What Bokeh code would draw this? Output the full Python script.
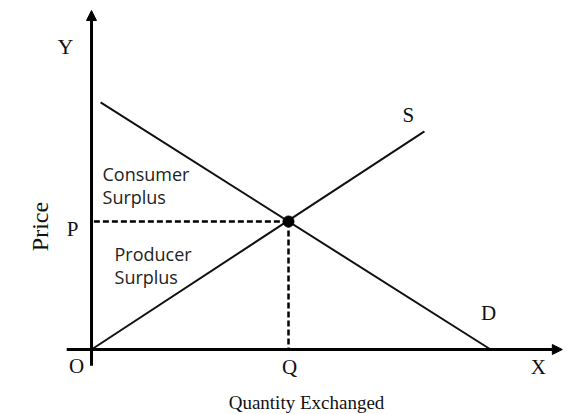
import math
from bokeh.plotting import figure
from bokeh.models import Range1d, Label, Arrow, NormalHead
from bokeh.embed import file_html
from bokeh.resources import INLINE

# ---- data (economic units) ----
demand_q = [0.23, 10.13]
demand_p = [9.65, 0.0]
supply_q = [0.0, 8.45]
supply_p = [0.0, 8.52]
eq_q = [5.0]
eq_p = [5.0]
x_axis_q = [-0.63, 11.95]
y_axis_p = [-0.63, 13.24]
guide_start = 0.06

p = figure(width=567, height=414,
           x_range=Range1d(-2.310, 12.081), y_range=Range1d(-2.539, 13.633),
           x_axis_type=None, y_axis_type=None,
           output_backend="svg", toolbar_location=None, min_border=0)
p.grid.visible = False
p.outline_line_color = None
p.background_fill_color = "white"
p.border_fill_color = "white"

# axes with arrowheads
p.add_layout(Arrow(end=NormalHead(size=10, fill_color="black", line_color="black"),
                   x_start=0, y_start=y_axis_p[0], x_end=0, y_end=y_axis_p[1],
                   line_width=3, line_color="black"))
p.add_layout(Arrow(end=NormalHead(size=10, fill_color="black", line_color="black"),
                   x_start=x_axis_q[0], y_start=0, x_end=x_axis_q[1], y_end=0,
                   line_width=3, line_color="black"))

# demand and supply
p.line(demand_q, demand_p, line_width=2, line_color="#111111")
p.line(supply_q, supply_p, line_width=2, line_color="#111111")

# dashed guides
p.line([guide_start, eq_q[0]], [eq_p[0], eq_p[0]], line_width=2.5,
       line_color="black", line_dash="6 3")
p.line([eq_q[0], eq_q[0]], [eq_p[0], 0], line_width=2.5,
       line_color="black", line_dash="6 3")

# equilibrium point
p.scatter(eq_q, eq_p, size=11, color="black")

serif = "Liberation Serif"
def lab(text, x, y, xo, yo, size, font=serif, align="center", base="middle",
        angle=0, color="#111111"):
    p.add_layout(Label(x=x, y=y, x_offset=xo, y_offset=yo, text=text,
                       text_font=font, text_font_size=f"{size}px",
                       text_align=align, text_baseline=base, angle=angle,
                       text_color=color))

lab("Y", 0, y_axis_p[1], -26, -36, 22)
lab("P", 0, eq_p[0], -19, -7, 21)
lab("Price", 0, eq_p[0], -52, -5, 24, angle=math.pi / 2)
lab("O", 0, 0, -15, -16, 21)
lab("Q", eq_q[0], 0, 1, -17, 21)
lab("X", x_axis_q[1], 0, -24, -17, 21)
lab("S", supply_q[1], supply_p[1], -16, 16, 21)
lab("D", demand_q[1], 0, -2, 37, 21)
lab("Quantity Exchanged", eq_q[0], 0, 18, -53, 19, base="middle")

sans = "Open Sans"
lab("Consumer", 0, eq_p[0], 11, 48, 18, font=sans, align="left",
    color="#222222")
lab("Surplus", 0, eq_p[0], 11, 25, 18, font=sans, align="left",
    color="#222222")
lab("Producer", 0, eq_p[0], 23, -32, 18, font=sans, align="left",
    color="#222222")
lab("Surplus", 0, eq_p[0], 23, -55, 18, font=sans, align="left",
    color="#222222")

open("out.html", "w").write(file_html(p, INLINE))
